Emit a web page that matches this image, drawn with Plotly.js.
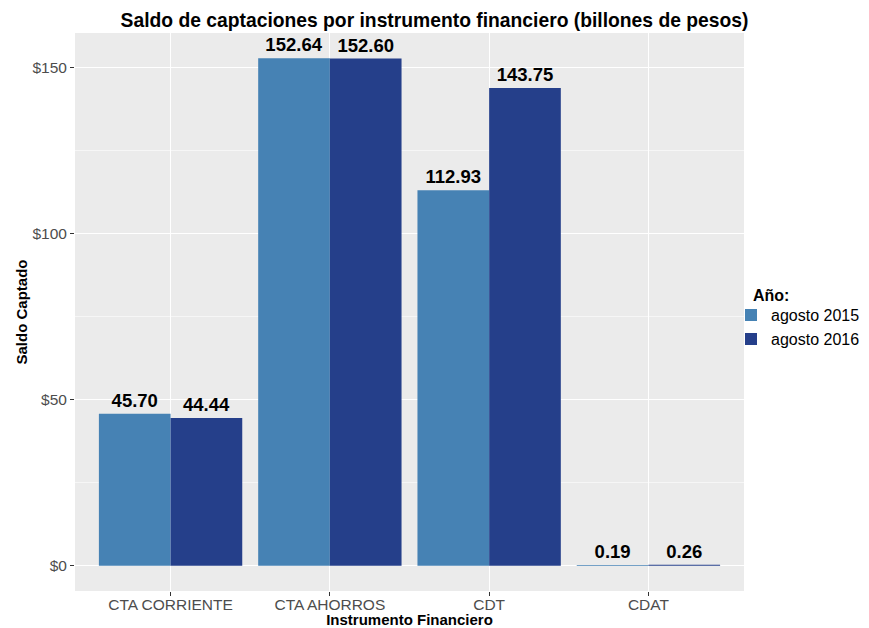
<!DOCTYPE html>
<html>
<head>
<meta charset="utf-8">
<script src="https://cdn.plot.ly/plotly-3.0.1.min.js"></script>
<style>html,body{margin:0;padding:0;background:#fff;}#chart{width:869px;height:628px;}</style>
</head>
<body>
<div id="chart"></div>
<script>
const categories = ["CTA CORRIENTE", "CTA AHORROS", "CDT", "CDAT"];
const values2015 = [45.70, 152.64, 112.93, 0.19];
const values2016 = [44.44, 152.60, 143.75, 0.26];
const seriesNames = ["agosto 2015", "agosto 2016"];
const colors = ["#4682B4", "#253F8A"];
const yTickVals = [0, 50, 100, 150];
const yTickText = ["$0", "$50", "$100", "$150"];

const fontFam = '"Liberation Sans", Arial, Helvetica, sans-serif';

function barTrace(name, vals, color) {
  return {
    type: 'bar', name: name, x: categories, y: vals,
    marker: {color: color, line: {width: 0}},
    text: vals.map(v => v.toFixed(2)),
    textposition: 'outside',
    cliponaxis: false,
    constraintext: 'none',
    textfont: {family: fontFam, size: 18.5, color: '#000', weight: 'bold'},
    hoverinfo: 'x+y'
  };
}

const data = [
  barTrace(seriesNames[0], values2015, colors[0]),
  barTrace(seriesNames[1], values2016, colors[1])
];

const layout = {
  width: 869, height: 628,
  margin: {l: 75, r: 125, t: 33, b: 37, pad: 0, autoexpand: false},
  paper_bgcolor: '#fff',
  plot_bgcolor: '#EBEBEB',
  barmode: 'group',
  bargap: 0.1,
  bargroupgap: 0,
  font: {family: fontFam, color: '#000'},
  title: {
    text: '<b>Saldo de captaciones por instrumento financiero (billones de pesos)</b>',
    font: {family: fontFam, size: 19.3, color: '#000'},
    x: 0.5, xref: 'container', xanchor: 'center',
    y: 0.968, yref: 'container', yanchor: 'middle'
  },
  xaxis: {
    type: 'category',
    range: [-0.6, 3.6],
    showgrid: true, gridcolor: '#fff', gridwidth: 1.1,
    ticks: 'outside', ticklen: 4, tickcolor: '#333', tickwidth: 1,
    ticklabelstandoff: -5,
    tickfont: {family: fontFam, size: 15.5, color: '#4D4D4D'},
    showline: false, zeroline: false,
    title: {text: '<b>Instrumento Financiero</b>', font: {family: fontFam, size: 15, color: '#000'}, standoff: 5},
    automargin: false
  },
  yaxis: {
    range: [-7.632, 160.272],
    tickvals: yTickVals,
    ticktext: yTickText,
    showgrid: true, gridcolor: '#fff', gridwidth: 1.1,
    minor: {tickvals: [25, 75, 125], showgrid: true, gridcolor: '#fff', gridwidth: 0.55, ticks: ''},
    ticks: 'outside', ticklen: 4, tickcolor: '#333', tickwidth: 1,
    tickfont: {family: fontFam, size: 15.5, color: '#4D4D4D'},
    zeroline: false, showline: false,
    title: {text: '<b>Saldo Captado</b>', font: {family: fontFam, size: 15, color: '#000'}, standoff: 1},
    automargin: false
  },
  legend: {
    xref: 'container', yref: 'container',
    x: 731 / 869, xanchor: 'left', y: 0.479, yanchor: 'middle',
    font: {family: fontFam, size: 16, color: '#000'},
    bgcolor: 'rgba(0,0,0,0)',
    itemwidth: 30,
    tracegroupgap: 0
  },
  annotations: [{
    text: '<b>Año:</b>', xref: 'paper', yref: 'paper',
    x: (751 - 75) / 669, y: (591 - 295) / 558, xanchor: 'left', yanchor: 'middle',
    showarrow: false, font: {family: fontFam, size: 16, color: '#000'}
  }],
  showlegend: true
};

Plotly.newPlot('chart', data, layout, {displayModeBar: false, staticPlot: true});
</script>
</body>
</html>
